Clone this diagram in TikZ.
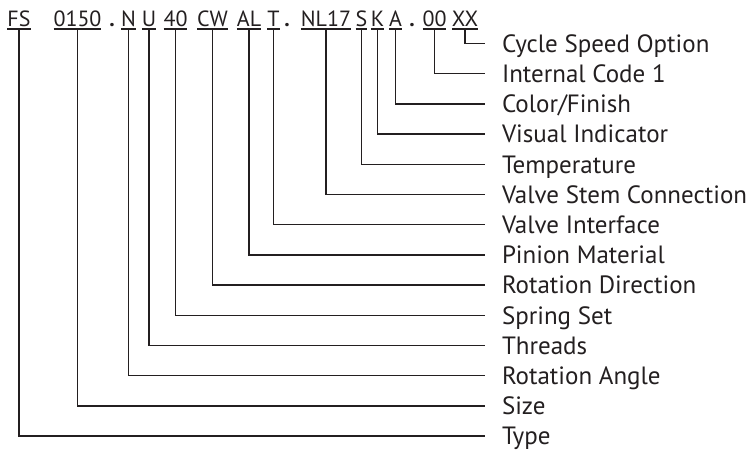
\documentclass[tikz,border=0pt]{standalone}
\usepackage{fontspec}
\setmainfont{PT Sans}
\usetikzlibrary{positioning}
\definecolor{clInk}{HTML}{231F20}
\tikzset{
  uline/.style={draw=clInk, line width=1.2pt},
  code/.style={inner xsep=0pt, inner ysep=3pt, outer sep=0pt, text height=15pt,
               text depth=0pt, anchor=south, font=\fontsize{22}{26}\selectfont, text=clInk,
               append after command={(\tikzlastnode.south west) edge[uline] (\tikzlastnode.south east)}},
  dotsep/.style={inner xsep=0pt, inner ysep=3pt, outer sep=0pt, text height=15pt,
                 text depth=0pt, anchor=south, font=\fontsize{22}{26}\bfseries, text=clInk},
  field/.style={inner xsep=17pt, inner ysep=0pt, outer sep=0pt, text height=17.5pt,
                text depth=0pt, anchor=west, font=\fontsize{25}{30}\selectfont, text=clInk},
  link/.style={draw=clInk, line width=1.3pt},
}
\begin{document}
\begin{tikzpicture}[x=1pt, y=-1pt, node distance=12.7pt]
  \useasboundingbox (0,0) rectangle (755,453);

  % order code (top row)
  \node[code] (fs) at (19,29) {FS};
  \node[code] (size) at (77.5,29) {0150};
  \node[dotsep] (dot1) at (112,29) {.};
  \node[code] (angle) at (128.5,29) {N};
  \node[code] (thr) at (149,29) {U};
  \node[code] (spring) at (175.5,29) {40};
  \node[code] (rot) at (212.5,29) {CW};
  \node[code] (pin) at (249,29) {AL};
  \node[code] (intf) at (273.5,29) {T};
  \node[dotsep] (dot2) at (287,29) {.};
  \node[code] (stem) at (326,29) {NL17};
  \node[code] (temp) at (361.5,29) {S};
  \node[code] (vis) at (377.5,29) {K};
  \node[code] (col) at (395.5,29) {A};
  \node[dotsep] (dot3) at (412,29) {.};
  \node[code] (ic) at (434.5,29) {00};
  \node[code] (cyc) at (465,29) {XX};

  % field names (right column)
  \node[field] (lCyc) at (485,43.5) {Cycle Speed Option};
  \node[field, below=of lCyc.south west, anchor=north west] (lIc) {Internal Code 1};
  \node[field, below=of lIc.south west, anchor=north west] (lCol) {Color/Finish};
  \node[field, below=of lCol.south west, anchor=north west] (lVis) {Visual Indicator};
  \node[field, below=of lVis.south west, anchor=north west] (lTemp) {Temperature};
  \node[field, below=of lTemp.south west, anchor=north west] (lStem) {Valve Stem Connection};
  \node[field, below=of lStem.south west, anchor=north west] (lIntf) {Valve Interface};
  \node[field, below=of lIntf.south west, anchor=north west] (lPin) {Pinion Material};
  \node[field, below=of lPin.south west, anchor=north west] (lRot) {Rotation Direction};
  \node[field, below=of lRot.south west, anchor=north west] (lSpring) {Spring Set};
  \node[field, below=of lSpring.south west, anchor=north west] (lThr) {Threads};
  \node[field, below=of lThr.south west, anchor=north west] (lAngle) {Rotation Angle};
  \node[field, below=of lAngle.south west, anchor=north west] (lSize) {Size};
  \node[field, below=of lSize.south west, anchor=north west] (lFs) {Type};

  % leaders
  \draw[link] (cyc.south) |- (lCyc.west);
  \draw[link] (ic.south) |- (lIc.west);
  \draw[link] (col.south) |- (lCol.west);
  \draw[link] (vis.south) |- (lVis.west);
  \draw[link] (temp.south) |- (lTemp.west);
  \draw[link] (stem.south) |- (lStem.west);
  \draw[link] (intf.south) |- (lIntf.west);
  \draw[link] (pin.south) |- (lPin.west);
  \draw[link] (rot.south) |- (lRot.west);
  \draw[link] (spring.south) |- (lSpring.west);
  \draw[link] (thr.south) |- (lThr.west);
  \draw[link] (angle.south) |- (lAngle.west);
  \draw[link] (size.south) |- (lSize.west);
  \draw[link] (fs.south) |- (lFs.west);
\end{tikzpicture}
\end{document}
